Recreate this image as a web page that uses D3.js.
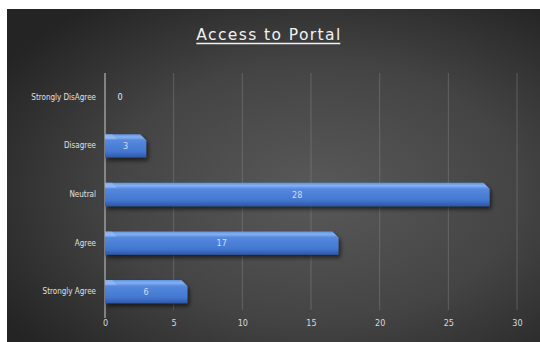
<!DOCTYPE html>
<html>
<head>
<meta charset="utf-8">
<script src="https://cdn.jsdelivr.net/npm/d3@7"></script>
<style>
  html, body { margin: 0; padding: 0; background: #ffffff; }
  svg { display: block; }
</style>
</head>
<body>
<script>
// Survey responses: "Access to Portal"
const categories = ["Strongly DisAgree", "Disagree", "Neutral", "Agree", "Strongly Agree"];
const counts = [0, 3, 28, 17, 6];
const tickValues = [0, 5, 10, 15, 20, 25, 30];
const chartTitle = "Access to Portal";

const W = 540, H = 342;
const margin = { left: 105, right: 23, top: 73, bottom: 26 };

const svg = d3.select("body").append("svg")
  .attr("width", W).attr("height", H);

const defs = svg.append("defs");

// dark panel with a soft lighter centre
const bg = defs.append("radialGradient")
  .attr("id", "bgGrad")
  .attr("cx", "58%").attr("cy", "55%").attr("r", "70%");
bg.append("stop").attr("offset", "0%").attr("stop-color", "#595959");
bg.append("stop").attr("offset", "55%").attr("stop-color", "#444444");
bg.append("stop").attr("offset", "100%").attr("stop-color", "#242424");

// bevelled blue bar fill
const barGrad = defs.append("linearGradient")
  .attr("id", "barGrad").attr("x1", 0).attr("y1", 0).attr("x2", 0).attr("y2", 1);
barGrad.append("stop").attr("offset", "0%").attr("stop-color", "#5f93e6");
barGrad.append("stop").attr("offset", "12%").attr("stop-color", "#86b0f0");
barGrad.append("stop").attr("offset", "26%").attr("stop-color", "#5589de");
barGrad.append("stop").attr("offset", "75%").attr("stop-color", "#4377d0");
barGrad.append("stop").attr("offset", "100%").attr("stop-color", "#2c58a8");

const shadow = defs.append("filter").attr("id", "barShadow")
  .attr("x", "-5%").attr("y", "-30%").attr("width", "115%").attr("height", "190%");
shadow.append("feDropShadow")
  .attr("dx", 2).attr("dy", 3).attr("stdDeviation", 2)
  .attr("flood-color", "#000").attr("flood-opacity", 0.6);

svg.append("rect")
  .attr("x", 7).attr("y", 9).attr("width", W - 7).attr("height", H - 9)
  .attr("fill", "url(#bgGrad)");

const x = d3.scaleLinear()
  .domain([0, 30])
  .range([margin.left, W - margin.right]);

const y = d3.scaleBand()
  .domain(categories)
  .range([margin.top, H - margin.bottom])
  .paddingInner(0.52)
  .paddingOuter(0.26);

// vertical gridlines
svg.append("g")
  .selectAll("line")
  .data(tickValues.filter(d => d !== 0))
  .join("line")
  .attr("x1", d => x(d)).attr("x2", d => x(d))
  .attr("y1", margin.top).attr("y2", H - margin.bottom - 6)
  .attr("stroke", "#8a8a8a").attr("stroke-opacity", 0.45).attr("stroke-width", 1);

// value axis ticks
const xAxis = svg.append("g")
  .attr("transform", `translate(0,${H - margin.bottom - 6})`)
  .call(d3.axisBottom(x).tickValues(tickValues).tickSize(0).tickPadding(10));
xAxis.select(".domain").remove();
xAxis.selectAll("text")
  .attr("fill", "#d8d8d8")
  .attr("font-family", "'Liberation Sans Narrow', 'DejaVu Sans Condensed', sans-serif")
  .attr("font-size", 9);

// category axis
const yAxis = svg.append("g")
  .attr("transform", `translate(${margin.left},0)`)
  .call(d3.axisLeft(y).tickSize(0).tickPadding(9));
yAxis.select(".domain")
  .attr("stroke", "#b5b5b5").attr("stroke-width", 1.2)
  .attr("d", `M0,${margin.top}V${H - margin.bottom + 2}`);
yAxis.selectAll("text")
  .attr("fill", "#e0e0e0")
  .attr("font-family", "'Liberation Sans Narrow', 'DejaVu Sans Condensed', sans-serif")
  .attr("font-size", 8);

// bars with chamfered right end
const bh = y.bandwidth();
function barPath(d, i) {
  const x0 = x(0), x1 = x(counts[i]);
  const top = y(d), bot = y(d) + bh;
  const c = Math.min(6, (x1 - x0) / 2);
  return `M${x0},${top}L${x1 - c},${top}L${x1},${top + c}L${x1},${bot}L${x0},${bot}Z`;
}

const bars = svg.append("g").attr("filter", "url(#barShadow)");
bars.selectAll("path")
  .data(categories.filter((d, i) => counts[i] > 0))
  .join("path")
  .attr("d", d => barPath(d, categories.indexOf(d)))
  .attr("fill", "url(#barGrad)");

// left bevel highlight
svg.append("g").selectAll("path")
  .data(categories.filter((d, i) => counts[i] > 0))
  .join("path")
  .attr("d", d => {
    const x0 = x(0), top = y(d);
    return `M${x0},${top}L${x0 + 7},${top}L${x0 + 12},${top + 5}L${x0},${top + 5}Z`;
  })
  .attr("fill", "#9cc0f5").attr("opacity", 0.55);

// value labels
svg.append("g").selectAll("text")
  .data(categories)
  .join("text")
  .attr("x", (d, i) => Math.max((x(0) + x(counts[i])) / 2, x(0) + 15))
  .attr("y", d => y(d) + bh / 2)
  .attr("dy", "0.35em")
  .attr("text-anchor", "middle")
  .attr("fill", (d, i) => counts[i] > 0 ? "#d2def5" : "#e8e8e8")
  .attr("font-family", "'Liberation Sans Narrow', 'DejaVu Sans Condensed', sans-serif")
  .attr("font-size", 9)
  .text((d, i) => counts[i]);

// title, underlined
const title = svg.append("text")
  .attr("x", 269).attr("y", 40)
  .attr("text-anchor", "middle")
  .attr("fill", "#f2f2f2")
  .attr("font-family", "'DejaVu Sans', sans-serif")
  .attr("font-size", 15.5)
  .attr("letter-spacing", 1.4)
  .text(chartTitle);
const tb = title.node().getBBox();
svg.append("line")
  .attr("x1", tb.x).attr("x2", tb.x + tb.width - 1.4)
  .attr("y1", 43.5).attr("y2", 43.5)
  .attr("stroke", "#f2f2f2").attr("stroke-width", 1.3);
</script>
</body>
</html>
